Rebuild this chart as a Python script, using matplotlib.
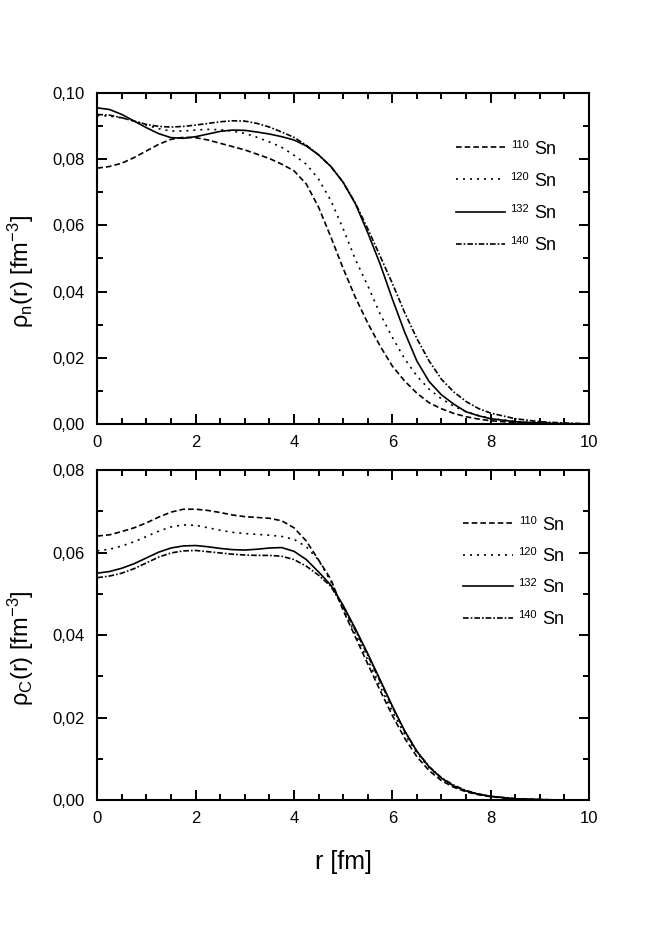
import numpy as np
import matplotlib
matplotlib.use("Agg")
import matplotlib.pyplot as plt
from matplotlib.ticker import MultipleLocator, FuncFormatter

plt.rcParams['font.family'] = ['Liberation Sans', 'DejaVu Sans']
plt.rcParams['mathtext.default'] = 'regular'

# radial grid [fm]
r = [0.0, 0.25, 0.5, 0.75, 1.0, 1.25, 1.5, 1.75, 2.0, 2.25, 2.5, 2.75,
     3.0, 3.25, 3.5, 3.75, 4.0, 4.25, 4.5, 4.75, 5.0, 5.25, 5.5, 5.75,
     6.0, 6.25, 6.5, 6.75, 7.0, 7.25, 7.5, 7.75, 8.0, 8.5, 9.0, 9.5, 10.0]

masses = ['110', '120', '132', '140']

# neutron densities [fm^-3]
rho_n_110 = [0.0773, 0.0778, 0.0788, 0.0805, 0.0825, 0.0845, 0.0860, 0.0866,
             0.0865, 0.0858, 0.0848, 0.0838, 0.0828, 0.0815, 0.0802, 0.0785,
             0.0765, 0.0725, 0.0655, 0.0565, 0.0470, 0.0382, 0.0305, 0.0236,
             0.0175, 0.0130, 0.0093, 0.0064, 0.0046, 0.0032, 0.0022, 0.0015,
             0.0010, 0.0004, 0.0002, 0.0001, 0.0]
rho_n_120 = [0.0932, 0.0930, 0.0925, 0.0915, 0.0903, 0.0892, 0.0885, 0.0885,
             0.0888, 0.0890, 0.0889, 0.0885, 0.0878, 0.0866, 0.0852, 0.0836,
             0.0812, 0.0785, 0.0740, 0.0675, 0.0590, 0.0497, 0.0418, 0.0333,
             0.0262, 0.0197, 0.0145, 0.0105, 0.0076, 0.0054, 0.0037, 0.0026,
             0.0017, 0.0008, 0.0003, 0.0001, 0.0]
rho_n_132 = [0.0955, 0.0950, 0.0935, 0.0915, 0.0895, 0.0877, 0.0865, 0.0863,
             0.0868, 0.0876, 0.0884, 0.0888, 0.0887, 0.0882, 0.0876, 0.0868,
             0.0858, 0.0840, 0.0813, 0.0778, 0.0730, 0.0665, 0.0578, 0.0484,
             0.0378, 0.0278, 0.0190, 0.0128, 0.0088, 0.0060, 0.0037, 0.0025,
             0.0016, 0.0007, 0.0003, 0.0001, 0.0]
rho_n_140 = [0.0935, 0.0933, 0.0925, 0.0915, 0.0905, 0.0899, 0.0897, 0.0899,
             0.0903, 0.0908, 0.0913, 0.0916, 0.0915, 0.0908, 0.0897, 0.0882,
             0.0866, 0.0842, 0.0813, 0.0778, 0.0730, 0.0667, 0.0590, 0.0508,
             0.0425, 0.0337, 0.0258, 0.0190, 0.0135, 0.0097, 0.0068, 0.0047,
             0.0033, 0.0016, 0.0007, 0.0003, 0.0001]

# charge densities [fm^-3]
rho_c_110 = [0.0640, 0.0643, 0.0651, 0.0660, 0.0672, 0.0686, 0.0698, 0.0705,
             0.0705, 0.0702, 0.0697, 0.0691, 0.0687, 0.0685, 0.0683, 0.0677,
             0.0660, 0.0628, 0.0582, 0.0535, 0.0460, 0.0395, 0.0330, 0.0266,
             0.0205, 0.0150, 0.0105, 0.0071, 0.0047, 0.0031, 0.0020, 0.0013,
             0.0008, 0.0003, 0.0001, 0.0, 0.0]
rho_c_120 = [0.0604, 0.0608, 0.0616, 0.0626, 0.0639, 0.0652, 0.0662, 0.0667,
             0.0666, 0.0660, 0.0654, 0.0649, 0.0646, 0.0644, 0.0642, 0.0639,
             0.0632, 0.0614, 0.0582, 0.0530, 0.0464, 0.0402, 0.0340, 0.0276,
             0.0215, 0.0160, 0.0114, 0.0078, 0.0052, 0.0034, 0.0022, 0.0014,
             0.0009, 0.0003, 0.0001, 0.0, 0.0]
rho_c_132 = [0.0550, 0.0554, 0.0562, 0.0573, 0.0587, 0.0601, 0.0611, 0.0616,
             0.0617, 0.0614, 0.0610, 0.0607, 0.0606, 0.0608, 0.0611, 0.0612,
             0.0603, 0.0583, 0.0553, 0.0521, 0.0472, 0.0415, 0.0355, 0.0292,
             0.0228, 0.0168, 0.0118, 0.0080, 0.0053, 0.0034, 0.0022, 0.0014,
             0.0009, 0.0003, 0.0001, 0.0, 0.0]
rho_c_140 = [0.0539, 0.0543, 0.0550, 0.0561, 0.0575, 0.0589, 0.0599, 0.0604,
             0.0605, 0.0602, 0.0599, 0.0596, 0.0594, 0.0593, 0.0593, 0.0591,
             0.0583, 0.0567, 0.0545, 0.0518, 0.0468, 0.0411, 0.0351, 0.0288,
             0.0225, 0.0167, 0.0118, 0.0081, 0.0054, 0.0036, 0.0023, 0.0015,
             0.0009, 0.0003, 0.0001, 0.0, 0.0]

styles = [(0, (3.4, 1.8)), (0, (1.2, 3.0)), '-', (0, (3.4, 1.2, 1.0, 1.2))]

fig = plt.figure(figsize=(6.54, 9.41), dpi=100)
ax1 = fig.add_axes([0.1488, 0.5494, 0.7518, 0.3518])
ax2 = fig.add_axes([0.1488, 0.1498, 0.7518, 0.3507])


def comma(v, pos):
    return ('%.2f' % v).replace('.', ',')


def style_axes(ax, ymax):
    ax.set_xlim(0, 10)
    ax.set_ylim(0, ymax)
    ax.xaxis.set_major_locator(MultipleLocator(2))
    ax.xaxis.set_minor_locator(MultipleLocator(0.5))
    ax.yaxis.set_major_locator(MultipleLocator(0.02))
    ax.yaxis.set_minor_locator(MultipleLocator(0.01))
    ax.yaxis.set_major_formatter(FuncFormatter(comma))
    ax.xaxis.set_major_formatter(FuncFormatter(lambda v, p: '%d' % v))
    ax.tick_params(which='both', direction='in', top=True, right=True,
                   width=1.4, labelsize=12)
    ax.tick_params(which='major', length=7)
    ax.tick_params(which='minor', length=4)
    ax.tick_params(axis='y', pad=9)
    ax.tick_params(axis='x', pad=8)
    for s in ax.spines.values():
        s.set_linewidth(1.5)


series_n = [rho_n_110, rho_n_120, rho_n_132, rho_n_140]
series_c = [rho_c_110, rho_c_120, rho_c_132, rho_c_140]

for y, ls in zip(series_n, styles):
    ax1.plot(r, y, color='black', lw=1.2, ls=ls, label='Sn')
for y, ls in zip(series_c, styles):
    ax2.plot(r, y, color='black', lw=1.2, ls=ls, label='Sn')

style_axes(ax1, 0.10)
style_axes(ax2, 0.08)

ax1.set_ylabel(r'ρ$_n$(r) [fm$^{-3}$]', fontsize=17)
ax2.set_ylabel(r'ρ$_C$(r) [fm$^{-3}$]', fontsize=17)
ax1.yaxis.set_label_coords(-0.125, 0.46)
ax2.yaxis.set_label_coords(-0.125, 0.46)
ax2.set_xlabel('r [fm]', fontsize=18, labelpad=17)

legends = []
for ax, x0, y0, sp, hl in ((ax1, 0.7295, 0.856, 0.84, 2.7),
                           (ax2, 0.743, 0.859, 0.80, 2.77)):
    leg = ax.legend(loc='upper left', bbox_to_anchor=(x0, y0),
                    frameon=False, fontsize=13, handlelength=hl,
                    handletextpad=1.65, labelspacing=sp, borderpad=0,
                    borderaxespad=0)
    legends.append(leg)

# mass numbers as small superscripts in front of "Sn"
fig.canvas.draw()
W, H = fig.bbox.width, fig.bbox.height
for leg in legends:
    for txt, a in zip(leg.get_texts(), masses):
        bb = txt.get_window_extent()
        fig.text((bb.x0 - 6) / W, (bb.y1 + 1) / H, a, fontsize=8,
                 ha='right', va='top')

fig.savefig('out.png', dpi=100)
